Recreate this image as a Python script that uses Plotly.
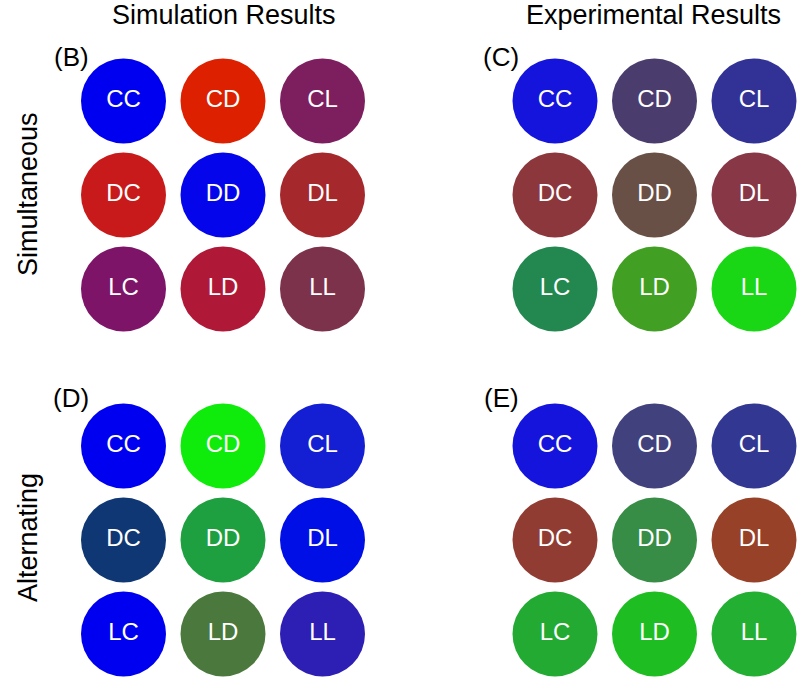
import plotly.graph_objects as go

# ---- data ----
strategies = ["C", "D", "L"]          # row = first letter, column = second letter
panel_names = ["(B)", "(C)", "(D)", "(E)"]
col_titles = ["Simulation Results", "Experimental Results"]
row_titles = ["Simultaneous", "Alternating"]

colors_B = [["#0000f0", "#dc2000", "#7d1e5f"],
            ["#c81a1a", "#0505eb", "#a5282d"],
            ["#7d1468", "#af1937", "#7d324b"]]
colors_C = [["#1414dc", "#4b3c6e", "#323296"],
            ["#8c373c", "#695046", "#873746"],
            ["#238750", "#41a023", "#19d714"]]
colors_D = [["#0000f0", "#0feb0a", "#141ed2"],
            ["#0f3773", "#1ea041", "#000fe6"],
            ["#0000f0", "#4b783c", "#2d1eb4"]]
colors_E = [["#1414dc", "#41417d", "#323791"],
            ["#913c32", "#378c46", "#964128"],
            ["#23aa32", "#1ebe23", "#23af32"]]
panels = [colors_B, colors_C, colors_D, colors_E]

FONT = "Liberation Sans, Arial, Helvetica, sans-serif"
W, H = 800, 681


def px(xp):
    return xp / W


def py(yp):
    return 1 - yp / H


fig = go.Figure()

# subplot boxes in page pixels
x_boxes = [(83.7, 362.3), (515.2, 793.8)]
y_boxes = [(63.4, 326.6), (408.4, 671.6)]

for p, cols in enumerate(panels):
    r, c = divmod(p, 2)
    idx = "" if p == 0 else str(p + 1)
    xs, ys, txt, col = [], [], [], []
    for i, a in enumerate(strategies):
        for j, b in enumerate(strategies):
            xs.append(b)
            ys.append(a)
            txt.append(a + b)
            col.append(cols[i][j])
    fig.add_trace(go.Scatter(
        x=xs, y=ys, text=txt, mode="markers+text",
        xaxis="x" + idx, yaxis="y" + idx,
        marker=dict(size=85, color=col, line=dict(width=0)),
        textposition="middle center",
        textfont=dict(color="white", size=24, family=FONT),
        cliponaxis=False, showlegend=False, hoverinfo="text"))
    xb, yb = x_boxes[c], y_boxes[r]
    ax = dict(domain=[px(xb[0]), px(xb[1])], type="category",
              categoryorder="array", categoryarray=strategies,
              range=[-0.4, 2.4], visible=False, fixedrange=True,
              anchor="y" + idx)
    ay = dict(domain=[py(yb[1]), py(yb[0])], type="category",
              categoryorder="array", categoryarray=strategies,
              range=[2.4, -0.4], visible=False, fixedrange=True,
              anchor="x" + idx)
    fig.update_layout(**{"xaxis" + idx: ax, "yaxis" + idx: ay})

annotations = []
for k, t in enumerate(col_titles):
    annotations.append(dict(text=t, x=px([224, 653][k]), y=py(15),
                            xref="paper", yref="paper", showarrow=False,
                            xanchor="center", yanchor="middle",
                            font=dict(size=27, color="black", family=FONT)))
for k, t in enumerate(row_titles):
    annotations.append(dict(text=t, x=px(28), y=py([194, 538][k]),
                            xref="paper", yref="paper", showarrow=False,
                            textangle=-90, xanchor="center", yanchor="middle",
                            font=dict(size=27, color="black", family=FONT)))
label_pos = [(71, 57), (501, 57), (71, 398), (501, 398)]
for k, t in enumerate(panel_names):
    annotations.append(dict(text=t, x=px(label_pos[k][0]), y=py(label_pos[k][1]),
                            xref="paper", yref="paper", showarrow=False,
                            xanchor="center", yanchor="middle",
                            font=dict(size=26, color="black", family=FONT)))

fig.update_layout(width=W, height=H, margin=dict(l=0, r=0, t=0, b=0),
                  paper_bgcolor="white", plot_bgcolor="white",
                  annotations=annotations)

fig.write_html("out.html",
               config={"displayModeBar": False},
               post_script="document.body.style.margin='0';"
                           "document.body.style.overflow='hidden';")
